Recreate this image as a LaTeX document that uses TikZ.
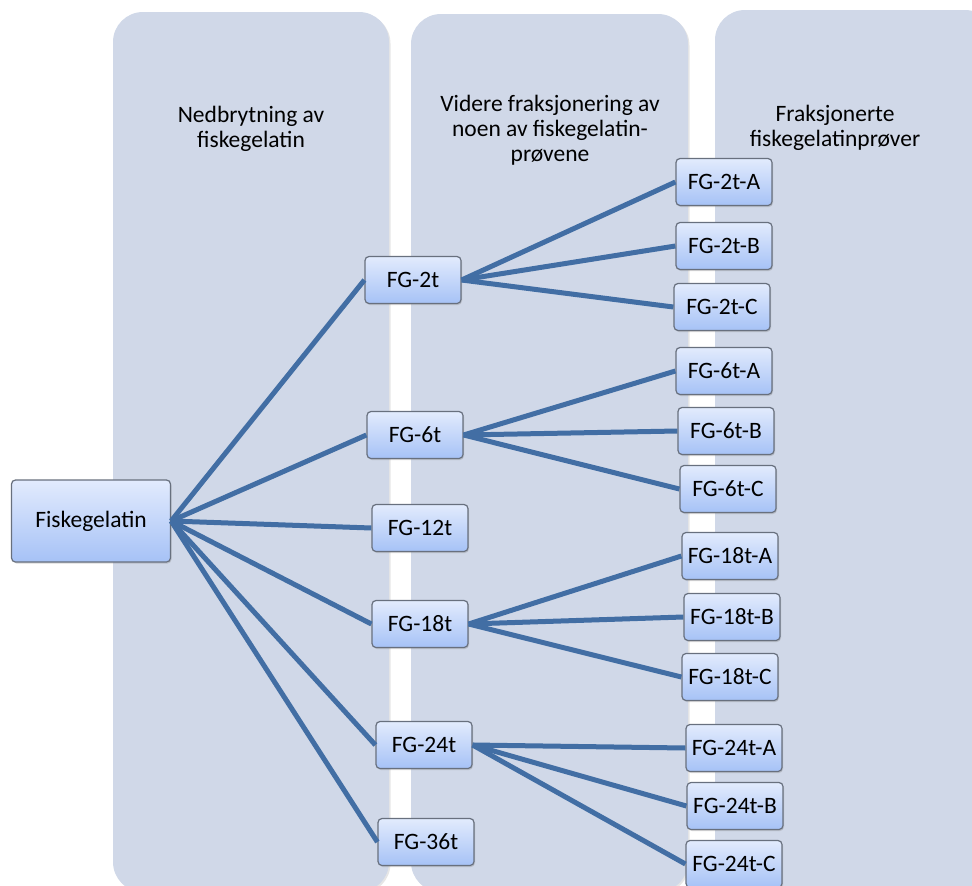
\documentclass[tikz,border=0pt]{standalone}
\usepackage{fontspec}
\setmainfont{Carlito}
\usetikzlibrary{shadows}
\definecolor{colfill}{RGB}{208,216,232}
\definecolor{boxtop}{RGB}{226,235,253}
\definecolor{boxbottom}{RGB}{166,194,246}
\definecolor{boxline}{RGB}{104,112,126}
\definecolor{linkblue}{RGB}{66,110,164}
\tikzset{
        column/.style={fill=colfill, rounded corners=30pt, drop shadow={opacity=0.2, shadow xshift=1.5pt, shadow yshift=-1.5pt}},
        header/.style={align=center, font=\fontsize{23.5}{25}\selectfont},
        sample/.style={draw=boxline, line width=1.2pt, rounded corners=4pt, top color=boxtop, bottom color=boxbottom, minimum width=96pt, minimum height=47pt, inner sep=0pt, font=\fontsize{23.5}{25}\selectfont, drop shadow={opacity=0.3, shadow xshift=1pt, shadow yshift=-1.5pt}},
        link/.style={draw=linkblue, line width=5pt},
    }
\begin{document}
\begin{tikzpicture}[x=1pt, y=-1pt]
        \useasboundingbox (0,0) rectangle (972,886);
        \clip (0,0) rectangle (972,886);

        % Column backgrounds
        \path[column] (113,12) rectangle (389,892);
        \path[column] (411,14) rectangle (688,892);
        \path[column] (715,10) rectangle (995,892);

        % Column headers
        \node[header] (step1) at (251,129) {Nedbrytning av\\fiskegelatin};
        \node[header] (step2) at (550,130) {Videre fraksjonering av\\noen av fiskegelatin-\\prøvene};
        \node[header] (step3) at (835,128) {Fraksjonerte\\fiskegelatinprøver};

        % Start sample
        \node[sample, minimum width=159pt, minimum height=82pt] (fg) at (91,521) {Fiskegelatin};

        % Hydrolysed samples
        \node[sample] (fg2) at (413,280) {FG-2t};
        \node[sample] (fg6) at (415,435) {FG-6t};
        \node[sample] (fg12) at (420,528) {FG-12t};
        \node[sample] (fg18) at (420,624) {FG-18t};
        \node[sample] (fg24) at (424,745) {FG-24t};
        \node[sample] (fg36) at (426,842) {FG-36t};

        % Fractions
        \node[sample] (fg2a) at (724,182) {FG-2t-A};
        \node[sample] (fg2b) at (724,246) {FG-2t-B};
        \node[sample] (fg2c) at (722,307) {FG-2t-C};
        \node[sample] (fg6a) at (724,371) {FG-6t-A};
        \node[sample] (fg6b) at (726,431) {FG-6t-B};
        \node[sample] (fg6c) at (728,489) {FG-6t-C};
        \node[sample] (fg18a) at (730,556) {FG-18t-A};
        \node[sample] (fg18b) at (732,617) {FG-18t-B};
        \node[sample] (fg18c) at (730,677) {FG-18t-C};
        \node[sample] (fg24a) at (734,748) {FG-24t-A};
        \node[sample] (fg24b) at (735,806) {FG-24t-B};
        \node[sample] (fg24c) at (734,864) {FG-24t-C};

        % Links from the start sample
        \draw[link] (fg.east) -- (fg2.west);
        \draw[link] (fg.east) -- (fg6.west);
        \draw[link] (fg.east) -- (fg12.west);
        \draw[link] (fg.east) -- (fg18.west);
        \draw[link] (fg.east) -- (fg24.west);
        \draw[link] (fg.east) -- (fg36.west);

        % Links to the fractions
        \draw[link] (fg2.east) -- (fg2a.west);
        \draw[link] (fg2.east) -- (fg2b.west);
        \draw[link] (fg2.east) -- (fg2c.west);
        \draw[link] (fg6.east) -- (fg6a.west);
        \draw[link] (fg6.east) -- (fg6b.west);
        \draw[link] (fg6.east) -- (fg6c.west);
        \draw[link] (fg18.east) -- (fg18a.west);
        \draw[link] (fg18.east) -- (fg18b.west);
        \draw[link] (fg18.east) -- (fg18c.west);
        \draw[link] (fg24.east) -- (fg24a.west);
        \draw[link] (fg24.east) -- (fg24b.west);
        \draw[link] (fg24.east) -- (fg24c.west);

    \end{tikzpicture}
\end{document}
